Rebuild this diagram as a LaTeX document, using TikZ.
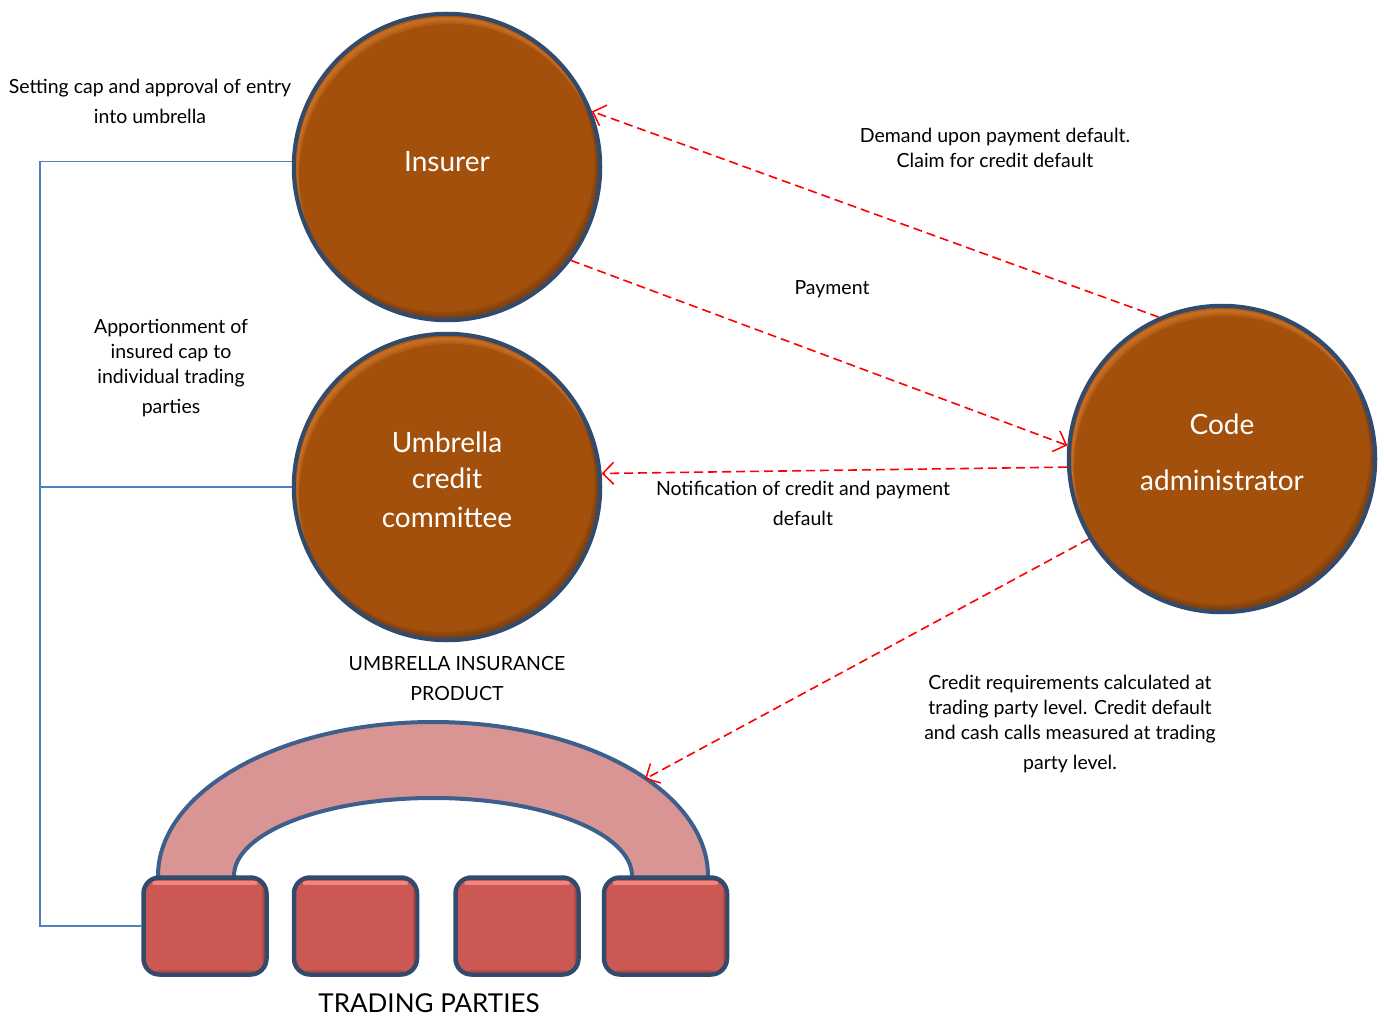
\documentclass[tikz,border=0pt]{standalone}
\usepackage{fontspec}
\setmainfont{Lato}
\usetikzlibrary{arrows.meta,calc}

\definecolor{discbrown}{RGB}{163,80,12}
\definecolor{discrim}{RGB}{50,74,108}
\definecolor{discglow}{RGB}{232,138,58}
\definecolor{discshade}{RGB}{95,50,20}
\definecolor{tpred}{RGB}{204,88,84}
\definecolor{tpglow}{RGB}{246,140,134}
\definecolor{tpshade}{RGB}{150,60,60}
\definecolor{archpink}{RGB}{217,149,148}
\definecolor{archedge}{RGB}{60,95,140}
\definecolor{linkblue}{RGB}{79,129,189}
\definecolor{flowred}{RGB}{255,0,0}

% soft rim light along the top and shade along the lower edge of a disc
\newcommand{\discrelief}[1]{%
  \begin{scope}
    \clip (#1) circle (151);
    \foreach \d in {2,4,6,8}{
      \fill[discglow,opacity=0.22,even odd rule]
        (#1) circle (151) ($(#1)+(0.4*\d,\d)$) circle (151);}
    \fill[discbrown,opacity=0.6,even odd rule]
        (#1) circle (151) ($(#1)+(0.4,1.6)$) circle (151);
    \foreach \d in {2,4,6}{
      \fill[discshade,opacity=0.2,even odd rule]
        (#1) circle (151) ($(#1)+(-0.6*\d,-\d)$) circle (151);}
  \end{scope}}

\begin{document}
\begin{tikzpicture}[x=1pt,y=-1pt,
  disc/.style={circle,minimum size=306pt,inner sep=0pt,fill=discbrown,
    draw=discrim,line width=4.5pt},
  disctext/.style={text=white,align=center,font=\fontsize{28}{36}\selectfont},
  party/.style={rounded corners=16pt,minimum width=123pt,minimum height=97pt,
    fill=tpred,draw=discrim,line width=4.5pt},
  flow/.style={draw=flowred,line width=1.6pt,dash pattern=on 9pt off 5pt,
    -{Straight Barb[length=11pt,width=22pt,line width=1.5pt]}},
  link/.style={draw=linkblue,line width=1.5pt},
  lbl/.style={font=\fontsize{19.5}{25}\selectfont,align=center,inner sep=0pt}]

% page frame
\useasboundingbox (0,0) rectangle (1384,1016);

% the umbrella arch
\path[fill=archpink,draw=archedge,line width=4pt,line join=round]
  (158,884) -- (158,876) arc[start angle=180,end angle=360,x radius=275,y radius=154]
  -- (708,884) -- (632,884) -- (632,876)
  arc[start angle=0,end angle=-180,x radius=199,y radius=78] -- (234,884) -- cycle;
\coordinate (archtip) at (645,779);

% trading parties
\foreach \n/\x in {1/205,2/355.5,3/517,4/665.5}{
  \node[party] (tp\n) at (\x,926) {};
  \draw[tpglow,line width=4pt,line cap=round,opacity=0.9]
    ($(tp\n.north west)+(13,8)$) -- ($(tp\n.north east)+(-13,8)$);
  \draw[tpshade,line width=3pt,line cap=round,opacity=0.5]
    ($(tp\n.north east)+(-5,16)$) -- ($(tp\n.south east)+(-5,-16)$);
  \draw[tpshade,line width=3pt,line cap=round,opacity=0.4]
    ($(tp\n.south west)+(16,-5)$) -- ($(tp\n.south east)+(-16,-5)$);
}

% the three discs
\node[disc] (ins) at (447,167) {};
\discrelief{ins.center}
\node[disctext] at (447,162) {Insurer};

\node[disc] (ucc) at (447,487) {};
\discrelief{ucc.center}
\node[disctext] at (447,480) {Umbrella\\credit\\[3pt]committee};

\node[disc] (ca) at (1222,459) {};
\discrelief{ca.center}
\node[disctext] at (1222,452) {Code\\[20pt]administrator};

% reporting lines on the left
\coordinate (spine) at (40,0);
\draw[link] (ins.178.2) -- (ins.178.2 -| spine) |- (tp1.west);
\draw[link] (ucc.west) -- (ucc.west -| spine);

% flows with the code administrator
\draw[flow] (ca.114.4) -- (ins.21);
\draw[flow] (ins.-37) -- (ca.175.5);
\draw[flow] (ca.183.3) -- (ucc.5.4);
\draw[flow] (ca.211.5) -- (archtip);

% labels
\node[lbl] (l1) at (150,101) {Setting cap and approval of entry\\[5pt]into umbrella};
\node[lbl] (l2) at (171,368) {Apportionment of\\insured cap to\\individual trading\\[5pt]parties};
\node[lbl] (l3) at (995,148) {Demand upon payment default.\\Claim for credit default};
\node[lbl] (l4) at (832,289) {Payment};
\node[lbl] (l5) at (803,503) {Notification of credit and payment\\[5pt]default};
\node[lbl] (l6) at (1070,724) {Credit requirements calculated at\\trading party level. Credit default\\and cash calls measured at trading\\[5pt]party level.};
\node[lbl] (l7) at (457,679) {UMBRELLA INSURANCE\\[5pt]PRODUCT};
\node[lbl,font=\fontsize{26}{30}\selectfont] (l8) at (429,1003) {TRADING PARTIES};
\end{tikzpicture}
\end{document}
